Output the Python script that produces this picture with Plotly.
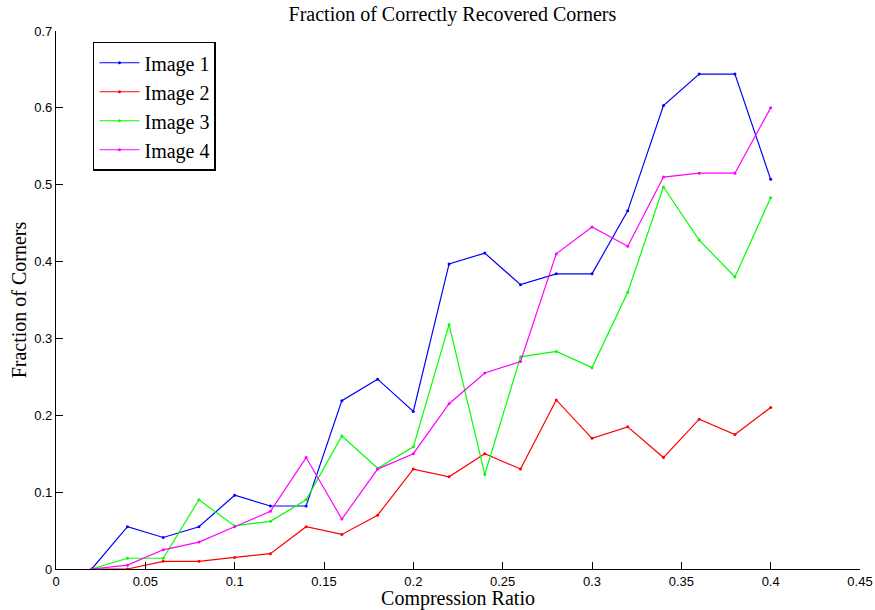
import plotly.graph_objects as go

ratio = [0.02, 0.04, 0.06, 0.08, 0.10, 0.12, 0.14, 0.16, 0.18, 0.20,
         0.22, 0.24, 0.26, 0.28, 0.30, 0.32, 0.34, 0.36, 0.38, 0.40]
image1 = [0, 0.055, 0.041, 0.055, 0.096, 0.082, 0.082, 0.219, 0.247, 0.205,
          0.397, 0.411, 0.370, 0.384, 0.384, 0.466, 0.603, 0.644, 0.644, 0.507]
image2 = [0, 0, 0.010, 0.010, 0.015, 0.020, 0.055, 0.045, 0.070, 0.130,
          0.120, 0.150, 0.130, 0.220, 0.170, 0.185, 0.145, 0.195, 0.175, 0.210]
image3 = [0, 0.014, 0.014, 0.090, 0.056, 0.062, 0.090, 0.173, 0.131, 0.159,
          0.318, 0.123, 0.276, 0.283, 0.262, 0.360, 0.497, 0.428, 0.380, 0.483]
image4 = [0, 0.005, 0.025, 0.035, 0.055, 0.075, 0.145, 0.065, 0.130, 0.150,
          0.215, 0.255, 0.270, 0.410, 0.445, 0.420, 0.510, 0.515, 0.515, 0.600]

series = [("Image 1", image1, "#0000ff"), ("Image 2", image2, "#ff0000"),
          ("Image 3", image3, "#00ff00"), ("Image 4", image4, "#ff00ff")]

xticks = [0, 0.05, 0.1, 0.15, 0.2, 0.25, 0.3, 0.35, 0.4, 0.45]
xticklabels = ["0", "0.05", "0.1", "0.15", "0.2", "0.25", "0.3", "0.35", "0.4", "0.45"]
yticks = [0, 0.1, 0.2, 0.3, 0.4, 0.5, 0.6, 0.7]
yticklabels = ["0", "0.1", "0.2", "0.3", "0.4", "0.5", "0.6", "0.7"]

serif = "Liberation Serif"
sans = "Liberation Sans"

fig = go.Figure()
for name, vals, col in series:
    fig.add_trace(go.Scatter(x=ratio, y=vals, name=name, mode="lines+markers",
                             line=dict(color=col, width=1.2),
                             marker=dict(color=col, size=3)))

fig.update_layout(
    width=875, height=610,
    margin=dict(l=56, r=15, t=31, b=41),
    paper_bgcolor="white", plot_bgcolor="white",
    title=dict(text="Fraction of Correctly Recovered Corners", x=0.517, xanchor="center",
               y=0.977, yanchor="middle", font=dict(family=serif, size=20, color="black")),
    legend=dict(x=0.046, y=0.98, xanchor="left", yanchor="top",
                bordercolor="black", borderwidth=1.5, bgcolor="white",
                font=dict(family=serif, size=20, color="black"), tracegroupgap=0,
                itemwidth=40),
    showlegend=True,
)
fig.update_xaxes(range=[0, 0.45], tickvals=xticks, ticktext=xticklabels, automargin=False,
                 showline=True, linecolor="black", linewidth=1.2, mirror=False,
                 ticks="inside", ticklen=7, tickcolor="black", showgrid=False, zeroline=False,
                 tickfont=dict(family=sans, size=13, color="black"),
                 title=dict(text="Compression Ratio", font=dict(family=serif, size=20, color="black"),
                            standoff=3))
fig.update_yaxes(range=[0, 0.7], tickvals=yticks, ticktext=yticklabels, automargin=False,
                 showline=True, linecolor="black", linewidth=1.2, mirror=False,
                 ticks="inside", ticklen=7, tickcolor="black", showgrid=False, zeroline=False,
                 tickfont=dict(family=sans, size=13, color="black"),
                 title=dict(text="Fraction of Corners", font=dict(family=serif, size=20, color="black"),
                            standoff=2))

fig.write_html("out.html")
